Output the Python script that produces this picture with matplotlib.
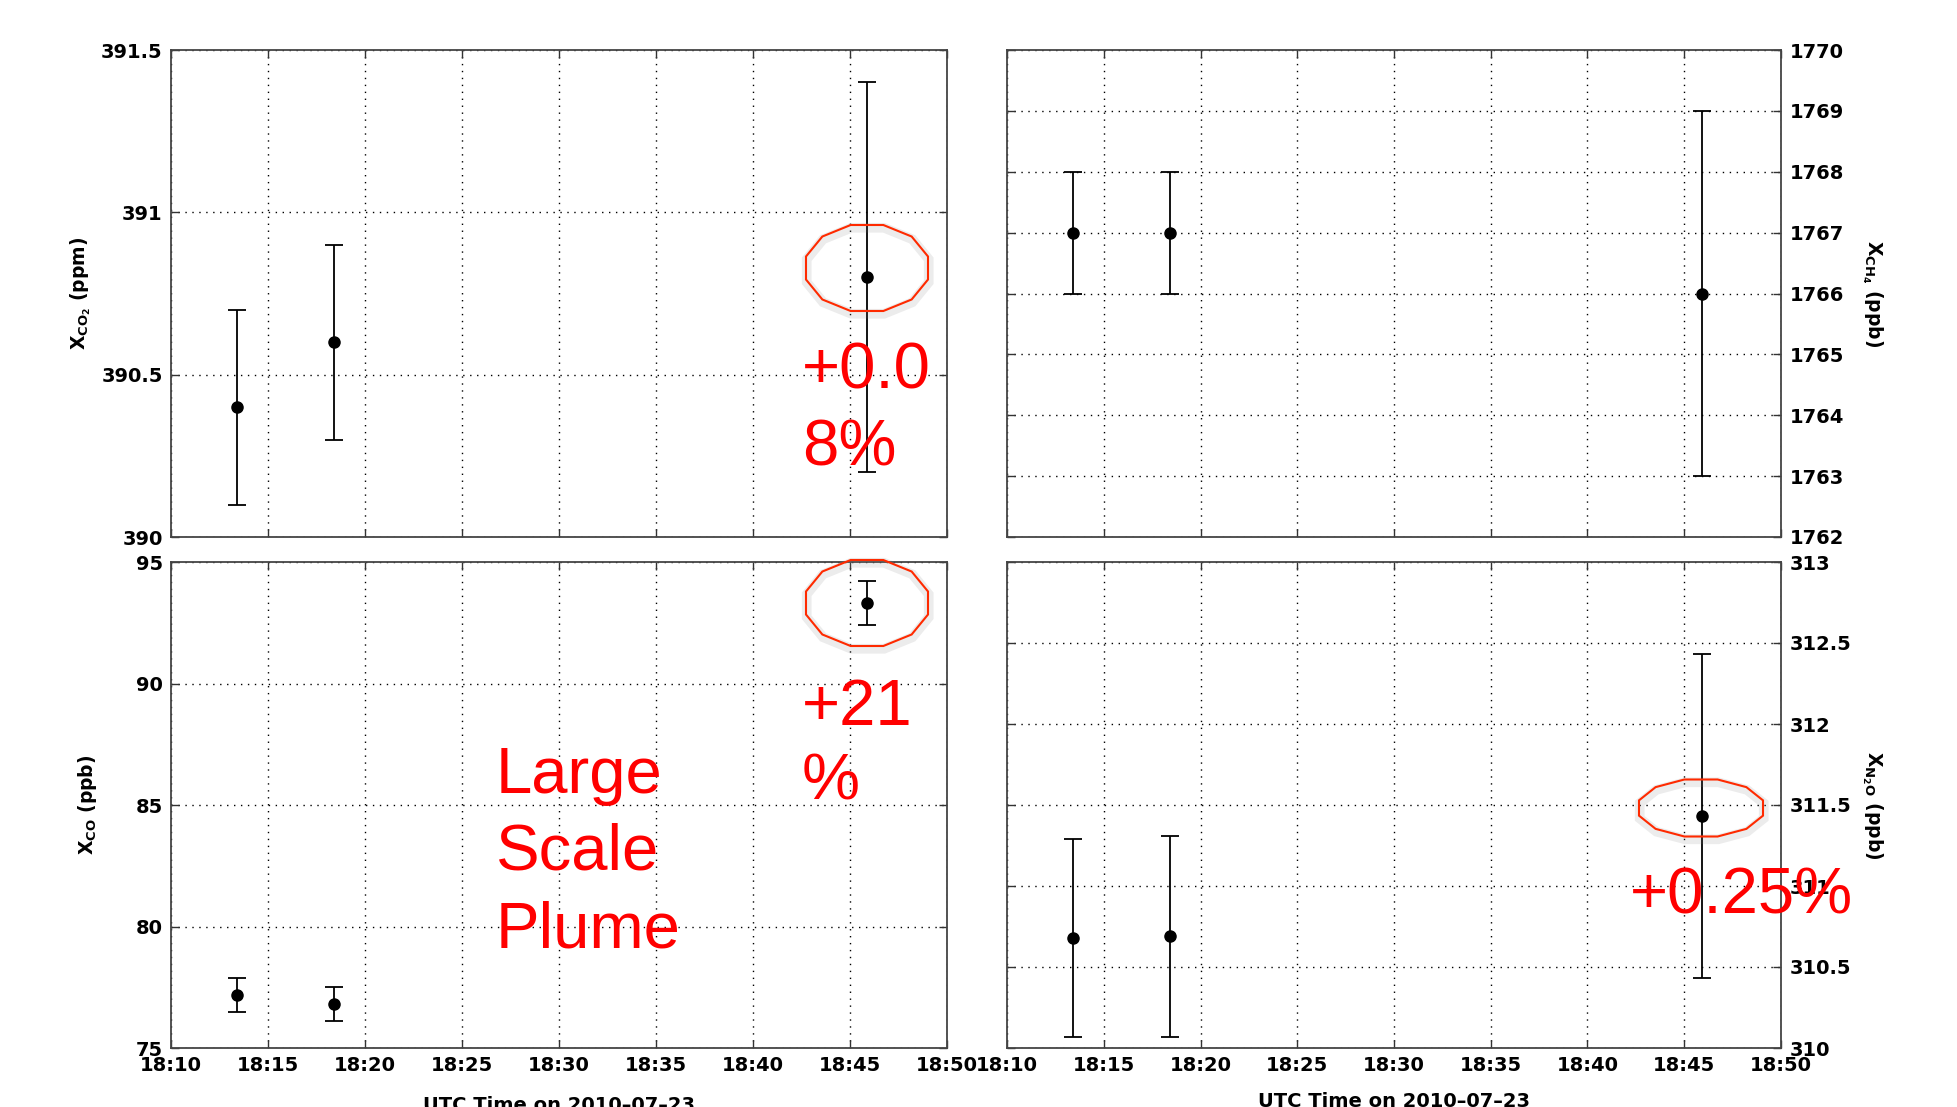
import numpy as np
import matplotlib
matplotlib.use('Agg')
import matplotlib.pyplot as plt
import matplotlib.patheffects as pe
from matplotlib.patches import Polygon
from matplotlib.ticker import FuncFormatter

# Datos: tiempo en minutos despues de las 18:00 UTC
times = [13.4, 18.4, 45.9]
xco2 = [390.4, 390.6, 390.8]
xco2_err = [0.3, 0.3, 0.6]
xch4 = [1767, 1767, 1766]
xch4_err = [1, 1, 3]
xco = [77.2, 76.8, 93.3]
xco_err = [0.7, 0.7, 0.9]
xn2o = [310.68, 310.69, 311.43]
xn2o_err = [0.61, 0.62, 1.0]

time_ticks = [10, 15, 20, 25, 30, 35, 40, 45, 50]
time_labels = ['18:10', '18:15', '18:20', '18:25', '18:30', '18:35', '18:40', '18:45', '18:50']
co2_ticks = [390, 390.5, 391, 391.5]
ch4_ticks = [1762, 1763, 1764, 1765, 1766, 1767, 1768, 1769, 1770]
co_ticks = [75, 80, 85, 90, 95]
n2o_ticks = [310, 310.5, 311, 311.5, 312, 312.5, 313]

W, H = 1957, 1107

plt.rcParams['font.family'] = ['DejaVu Sans']
plt.rcParams['mathtext.fontset'] = 'dejavusans'
plt.rcParams['mathtext.default'] = 'bf'

fig = plt.figure(figsize=(W / 100, H / 100), dpi=100)


def px(x, y):
    # pixeles -> fraccion de figura
    return x / W, 1 - y / H


def panel(rect, y, yerr, yticks, ylabel, side, label_x):
    ax = fig.add_axes(rect)
    ax.set_axisbelow(True)
    ax.errorbar(times, y, yerr=yerr, fmt='o', color='k', ms=8, elinewidth=1.3,
                capsize=6.5, capthick=1.3)
    ax.set_xlim(10, 50)
    ax.set_ylim(yticks[0], yticks[-1])
    ax.set_xticks(time_ticks)
    ax.set_xticklabels(time_labels)
    ax.set_yticks(yticks)
    ax.yaxis.set_major_formatter(FuncFormatter(lambda v, p: '%g' % v))
    ax.grid(True, color='k', linestyle=(0, (1, 4)), linewidth=1.0)
    ax.tick_params(direction='in', top=True, right=True, length=6, width=1.0,
                   labelsize=14, pad=6, colors='#333333', labelcolor='k')
    for s in ax.spines.values():
        s.set_color('#444444')
        s.set_linewidth(1.3)
    if side == 'right':
        ax.tick_params(labelleft=False, labelright=True)
        ax.yaxis.set_label_position('right')
        ax.set_ylabel(ylabel, fontsize=13.5, fontweight='bold', rotation=270,
                      va='center', ha='center')
    else:
        ax.set_ylabel(ylabel, fontsize=13.5, fontweight='bold', va='center', ha='center')
    ax.yaxis.set_label_coords(label_x, 0.5)
    for t in ax.get_xticklabels() + ax.get_yticklabels():
        t.set_fontweight('bold')
    return ax


lw, rw = (947 - 171) / W, (1781 - 1007) / W
th, bh = (537 - 50) / H, (1048 - 562) / H
ax1 = panel([171 / W, 1 - 537 / H, lw, th], xco2, xco2_err, co2_ticks,
            r'$X_{CO_2}$ (ppm)', 'left', -0.116)
ax2 = panel([1007 / W, 1 - 537 / H, rw, th], xch4, xch4_err, ch4_ticks,
            r'$X_{CH_4}$ (ppb)', 'right', 1.118)
ax3 = panel([171 / W, 1 - 1048 / H, lw, bh], xco, xco_err, co_ticks,
            r'$X_{CO}$ (ppb)', 'left', -0.108)
ax4 = panel([1007 / W, 1 - 1048 / H, rw, bh], xn2o, xn2o_err, n2o_ticks,
            r'$X_{N_2O}$ (ppb)', 'right', 1.118)
ax1.tick_params(labelbottom=False)
ax2.tick_params(labelbottom=False)

# etiquetas del eje x (cortadas por el borde inferior)
fig.text(*px(559, 1096), 'UTC Time on 2010\u201307\u201323', fontsize=14,
         fontweight='bold', ha='center', va='top')
fig.text(*px(1394, 1092), 'UTC Time on 2010\u201307\u201323', fontsize=14,
         fontweight='bold', ha='center', va='top')

# elipses rojas con sombra
ang = np.deg2rad(15 + 30 * np.arange(12))
for cx, cy, ew, eh in [(867, 268, 122, 86), (867, 603, 122, 86), (1701, 808, 124, 57)]:
    rx, ry = ew / 2 / np.cos(np.deg2rad(15)), eh / 2 / np.cos(np.deg2rad(15))
    pts = [px(cx + rx * np.cos(a), cy + ry * np.sin(a)) for a in ang]
    poly = Polygon(pts, closed=True, fill=False, edgecolor='#ff2a00', linewidth=1.5,
                   transform=fig.transFigure, zorder=5)
    poly.set_path_effects([pe.SimpleLineShadow(offset=(0.5, -2), shadow_color='gray',
                                               alpha=0.15, linewidth=7), pe.Normal()])
    fig.patches.append(poly)

# textos rojos
notes = [(802, [388, 465], ['+0.0', '8%']),
         (802, [725, 800], ['+21', '%']),
         (496, [793, 870, 948], ['Large', 'Scale', 'Plume']),
         (1630, [913], ['+0.25%'])]
for x, ys, lines in notes:
    for yy, line in zip(ys, lines):
        fig.text(*px(x, yy), line, fontsize=47, color='#ff0000', ha='left',
                 va='baseline', zorder=10, family=['Liberation Sans'])

plt.savefig('out.png', dpi=100)
